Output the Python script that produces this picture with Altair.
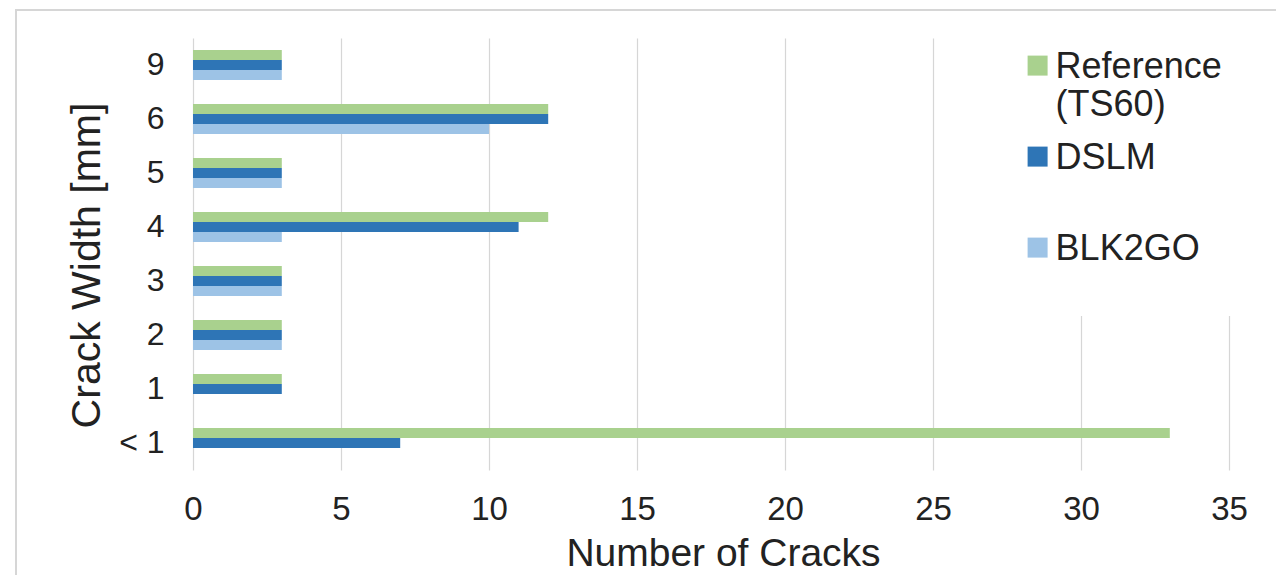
import altair as alt
import pandas as pd

# ---- data ----
categories = ["9", "6", "5", "4", "3", "2", "1", "< 1"]
series = ["Reference (TS60)", "DSLM", "BLK2GO"]
reference_ts60 = [3, 12, 3, 12, 3, 3, 3, 33]
dslm = [3, 12, 3, 11, 3, 3, 3, 7]
blk2go = [3, 10, 3, 3, 3, 3, 0, 0]
colors = ["#A9D18E", "#2E75B6", "#9DC3E6"]
x_ticks = [0, 5, 10, 15, 20, 25, 30, 35]

rows = []
for s, vals in zip(series, [reference_ts60, dslm, blk2go]):
    for c, v in zip(categories, vals):
        rows.append({"width": c, "series": s, "count": v})
df = pd.DataFrame(rows)

FONT = "Liberation Sans"
TXT = "#222222"
GRID = "#d6d6d6"

bars = alt.Chart(df).mark_bar().encode(
    x=alt.X(
        "count:Q",
        scale=alt.Scale(domain=[0, 35], nice=False, zero=True),
        axis=alt.Axis(
            values=x_ticks, title="Number of Cracks", grid=True, gridColor=GRID,
            gridWidth=1.2, domain=False, ticks=False, tickSize=0,
            labelFlush=False,
            labelFont=FONT, labelFontSize=33, labelColor=TXT, labelPadding=23,
            titleFont=FONT, titleFontSize=39, titleFontWeight="normal",
            titleColor=TXT, titlePadding=8, titleX=530,
        ),
    ),
    y=alt.Y(
        "width:N", sort=categories,
        scale=alt.Scale(paddingInner=0.444, paddingOuter=0.222),
        axis=alt.Axis(
            title="Crack Width [mm]", domain=False, ticks=False, tickSize=0,
            grid=False, labelFont=FONT, labelFontSize=32, labelColor=TXT,
            labelPadding=29, titleFont=FONT, titleFontSize=41,
            titleFontWeight="normal", titleColor=TXT, titlePadding=10,
            titleY=227,
        ),
    ),
    yOffset=alt.YOffset("series:N", sort=series,
                        scale=alt.Scale(paddingInner=0, paddingOuter=0)),
    color=alt.Color(
        "series:N", sort=series,
        scale=alt.Scale(domain=series, range=colors),
        legend=alt.Legend(
            title=None, orient="none", legendX=815.6, legendY=-17,
            symbolType="M-1,0.56 L1,0.56 L1,2.56 L-1,2.56 Z",
            symbolSize=400, symbolStrokeWidth=0,
            labelFont=FONT, labelFontSize=36, labelColor=TXT,
            labelLimit=500, labelOffset=0, labelBaseline="top",
            labelExpr="datum.label == 'Reference (TS60)' ? ['Reference', '(TS60)'] : [datum.label, '']",
            rowPadding=0, fillColor="white", padding=11,
        ),
    ),
)

frame = alt.Chart(alt.Data(values=[{"k": 1}])).mark_rect(
    fillOpacity=0, stroke="#d6d6d6", strokeWidth=2
).encode(
    x=alt.value(-177), x2=alt.value(1300),
    y=alt.value(-28), y2=alt.value(700),
)

chart = alt.layer(frame, bars).properties(
    width=1036, height=432,
    autosize=alt.AutoSizeParams(type="none"),
    padding={"left": 185, "top": 30, "right": 47, "bottom": 105},
    background="white",
).configure_view(stroke=None)

chart.save("out.html", embed_options={"renderer": "svg", "actions": False})
